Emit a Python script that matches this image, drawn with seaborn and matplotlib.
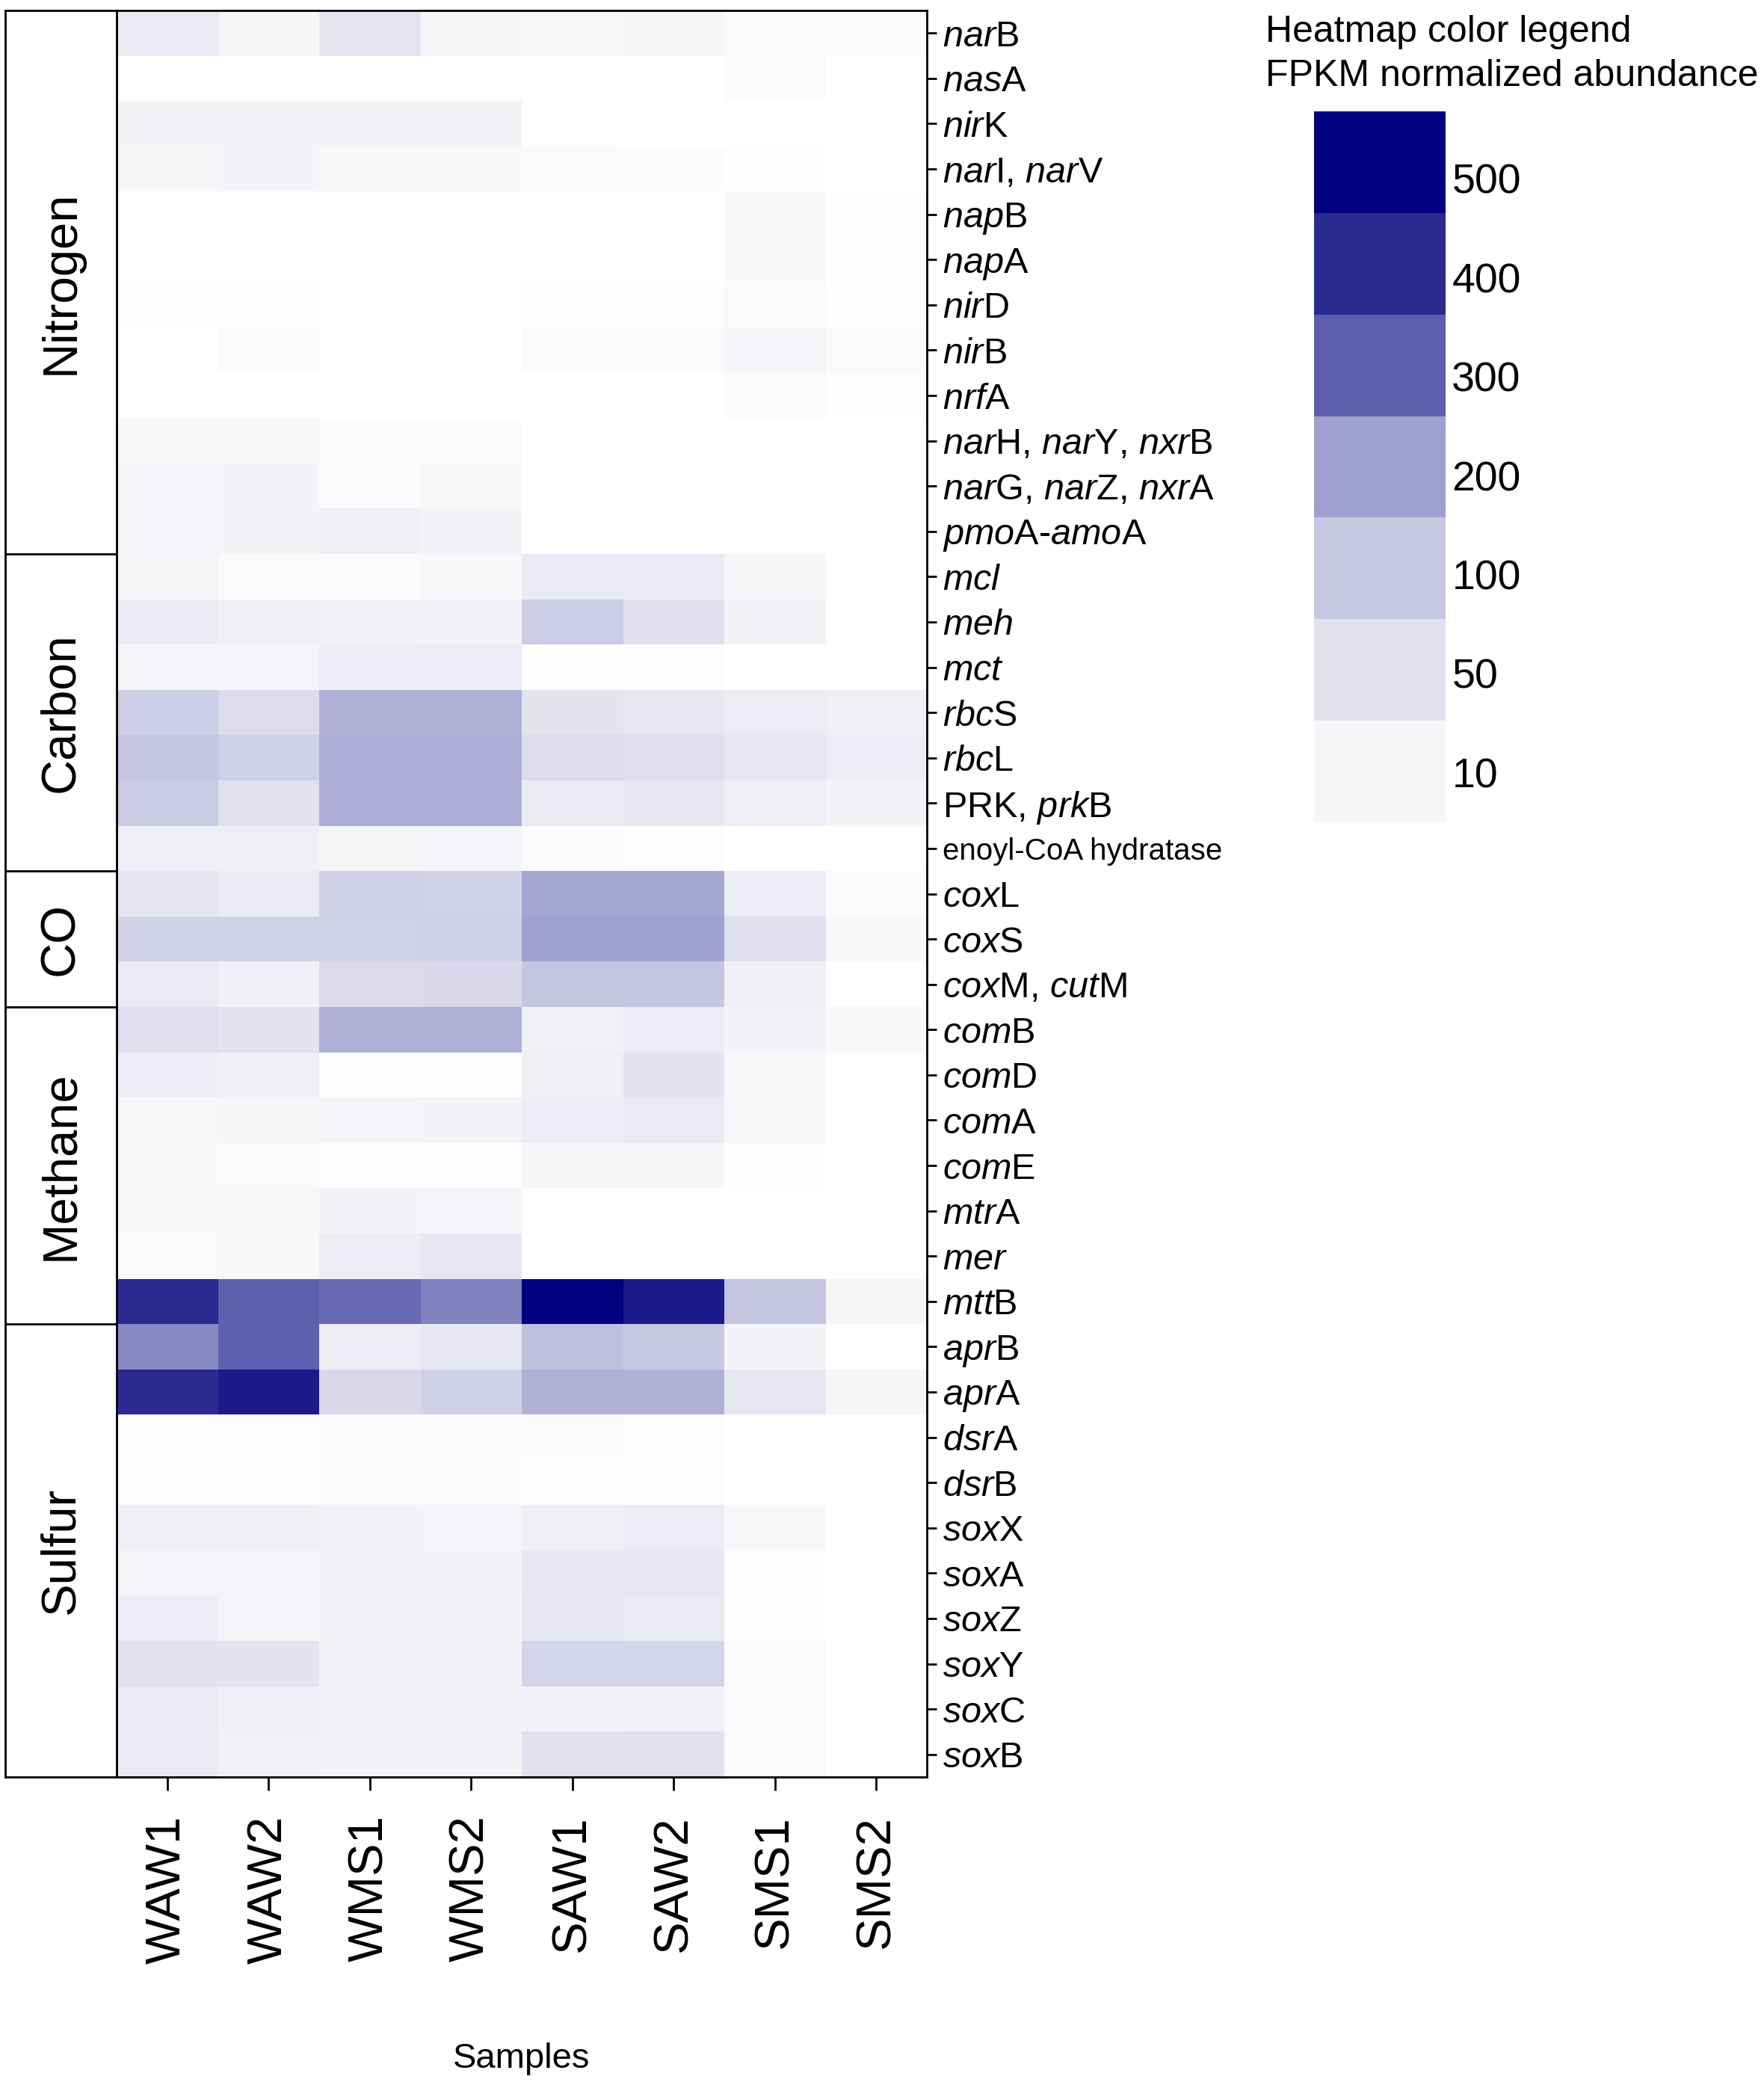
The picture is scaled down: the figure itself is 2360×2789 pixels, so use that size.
import numpy as np
import pandas as pd
import matplotlib
matplotlib.use("Agg")
import matplotlib.pyplot as plt
import seaborn as sns
from matplotlib.colors import LinearSegmentedColormap

sns.set_style("white")
plt.rcParams['font.family'] = ['Liberation Sans', 'DejaVu Sans']
plt.rcParams['mathtext.fontset'] = 'custom'
plt.rcParams['mathtext.rm'] = 'Liberation Sans'
plt.rcParams['mathtext.it'] = 'Liberation Sans:italic'
for k in ['text.color', 'axes.labelcolor', 'xtick.color', 'ytick.color']:
    plt.rcParams[k] = 'black'

samples = ["WAW1", "WAW2", "WMS1", "WMS2", "SAW1", "SAW2", "SMS1", "SMS2"]

genes = [
    r"$\mathit{nar}$B", r"$\mathit{nas}$A", r"$\mathit{nir}$K", r"$\mathit{nar}$I, $\mathit{nar}$V",
    r"$\mathit{nap}$B", r"$\mathit{nap}$A", r"$\mathit{nir}$D", r"$\mathit{nir}$B", r"$\mathit{nrf}$A",
    r"$\mathit{nar}$H, $\mathit{nar}$Y, $\mathit{nxr}$B", r"$\mathit{nar}$G, $\mathit{nar}$Z, $\mathit{nxr}$A",
    r"$\mathit{pmo}$A-$\mathit{amo}$A",
    r"$\mathit{mcl}$", r"$\mathit{meh}$", r"$\mathit{mct}$", r"$\mathit{rbc}$S", r"$\mathit{rbc}$L",
    r"PRK, $\mathit{prk}$B", "enoyl-CoA hydratase",
    r"$\mathit{cox}$L", r"$\mathit{cox}$S", r"$\mathit{cox}$M, $\mathit{cut}$M",
    r"$\mathit{com}$B", r"$\mathit{com}$D", r"$\mathit{com}$A", r"$\mathit{com}$E", r"$\mathit{mtr}$A",
    r"$\mathit{mer}$", r"$\mathit{mtt}$B",
    r"$\mathit{apr}$B", r"$\mathit{apr}$A", r"$\mathit{dsr}$A", r"$\mathit{dsr}$B", r"$\mathit{sox}$X",
    r"$\mathit{sox}$A", r"$\mathit{sox}$Z", r"$\mathit{sox}$Y", r"$\mathit{sox}$C", r"$\mathit{sox}$B",
]

groups = ["Nitrogen", "Carbon", "CO", "Methane", "Sulfur"]
group_sizes = [12, 7, 3, 7, 10]

# FPKM values per gene (rows) x sample (columns)
WAW1 = [34, 0, 16, 10, 0, 0, 2, 1, 0, 8, 12, 12, 10, 32, 12, 90, 108, 96, 25, 42, 81, 34, 55, 28, 8, 8, 8, 6, 400, 236, 400, 3, 2, 25, 12, 28, 50, 32, 35]
WAW2 = [10, 0, 16, 15, 0, 0, 3, 4, 0, 8, 14, 14, 6, 25, 12, 62, 85, 50, 25, 32, 82, 22, 45, 25, 10, 6, 8, 8, 300, 297, 438, 3, 2, 25, 12, 12, 45, 25, 20]
WMS1 = [44, 0, 15, 8, 0, 0, 1, 1, 0, 5, 5, 22, 5, 18, 30, 160, 170, 170, 10, 85, 82, 65, 160, 2, 12, 2, 15, 30, 282, 30, 69, 5, 4, 18, 20, 18, 20, 18, 15]
WMS2 = [10, 0, 14, 8, 0, 0, 1, 1, 0, 5, 8, 16, 8, 16, 30, 160, 168, 165, 12, 82, 85, 68, 160, 3, 14, 2, 12, 40, 248, 40, 85, 5, 4, 12, 18, 15, 18, 15, 15]
SAW1 = [8, 0, 0, 6, 0, 0, 3, 4, 0, 0, 0, 0, 35, 92, 2, 45, 62, 35, 5, 185, 200, 108, 20, 25, 30, 10, 0, 0, 500, 120, 160, 4, 3, 25, 40, 40, 75, 15, 50]
SAW2 = [10, 0, 0, 5, 0, 0, 3, 6, 0, 0, 0, 0, 35, 54, 2, 40, 55, 40, 2, 185, 200, 108, 30, 45, 35, 10, 0, 0, 438, 100, 160, 3, 3, 30, 40, 35, 75, 20, 50]
SMS1 = [5, 4, 0, 2, 8, 8, 6, 12, 6, 0, 0, 0, 10, 15, 0, 30, 40, 25, 0, 30, 55, 22, 15, 8, 8, 3, 0, 0, 108, 15, 40, 0, 0, 8, 3, 3, 6, 5, 6]
SMS2 = [5, 0, 0, 1, 3, 3, 3, 6, 3, 0, 0, 0, 0, 0, 0, 25, 28, 15, 0, 5, 8, 0, 8, 0, 0, 0, 0, 0, 10, 0, 10, 0, 0, 0, 0, 0, 0, 0, 0]

legend_values = [10, 50, 100, 200, 300, 400, 500]
legend_colors = ["#F6F6F9", "#E2E2EF", "#C8C8E2", "#A0A0D0", "#5E5EAE", "#2A2A90", "#000080"]

df = pd.DataFrame({"WAW1": WAW1, "WAW2": WAW2, "WMS1": WMS1, "WMS2": WMS2,
                   "SAW1": SAW1, "SAW2": SAW2, "SMS1": SMS1, "SMS2": SMS2}, index=genes)[samples]

vmax = 500.0
nodes = [0.0] + [v / vmax for v in legend_values]
cols = ["#FFFFFF"] + legend_colors
cmap = LinearSegmentedColormap.from_list("fpkm", list(zip(nodes, cols)))

W, H = 2360, 2789
dpi = 200
fig = plt.figure(figsize=(W / dpi, H / dpi), dpi=dpi)

left, right, top, bottom = 156 / W, 1240 / W, 1 - 14 / H, 1 - 2377 / H
ax = fig.add_axes([left, bottom, right - left, top - bottom])
sns.heatmap(df, cmap=cmap, vmin=0, vmax=vmax, cbar=False, ax=ax)
for s in ax.spines.values():
    s.set_visible(True)
    s.set_color("black")
    s.set_linewidth(1.0)
ax.yaxis.tick_right()
ax.set_yticks(np.arange(len(genes)) + 0.5)
ax.set_yticklabels(genes, rotation=0, fontsize=17.5)
for lab in ax.get_yticklabels():
    if lab.get_text() == "enoyl-CoA hydratase":
        lab.set_fontsize(14.5)
ax.set_xticks(np.arange(len(samples)) + 0.5)
ax.set_xticklabels(samples, rotation=90, fontsize=23.5)
ax.tick_params(axis="y", which="both", right=True, left=False, length=4.5, width=1.0, pad=3, color="black")
ax.tick_params(axis="x", which="both", bottom=True, length=6.5, width=1.0, pad=12, color="black")
ax.set_ylabel("")
ax.set_xlabel("Samples", fontsize=17, labelpad=38)

# group box
gax = fig.add_axes([7 / W, bottom, left - 7 / W, top - bottom])
gax.set_xlim(0, 1)
gax.set_ylim(len(genes), 0)
gax.set_xticks([])
gax.set_yticks([])
for s in gax.spines.values():
    s.set_visible(True)
    s.set_color("black")
    s.set_linewidth(1.0)
start = 0
for g, n in zip(groups, group_sizes):
    if start > 0:
        gax.axhline(start, color="black", lw=1.0)
    gax.text(0.5, start + n / 2, g, rotation=90, ha="center", va="center", fontsize=23.5)
    start += n

# discrete colour legend
lx0, lx1, ly0, ly1 = 1758 / W, 1934 / W, 1 - 1100 / H, 1 - 149 / H
lax = fig.add_axes([lx0, ly0, lx1 - lx0, ly1 - ly0])
lax.barh(np.arange(len(legend_values)), [1] * len(legend_values), height=1.0,
         left=0, color=legend_colors, align="edge", edgecolor="none")
lax.set_xlim(0, 1)
lax.set_ylim(0, len(legend_values))
lax.set_xticks([])
for s in lax.spines.values():
    s.set_visible(False)
lax.yaxis.tick_right()
lax.set_yticks([0.49 + 0.975 * i for i in range(len(legend_values))])
lax.set_yticklabels([str(v) for v in legend_values], fontsize=20)
lax.tick_params(axis="y", length=0, pad=3)

fig.text(1693 / W, 1 - 43 / H, "Heatmap color legend", fontsize=18, ha="left", va="center")
fig.text(1693 / W, 1 - 102 / H, "FPKM normalized abundance", fontsize=18, ha="left", va="center")

fig.savefig("out.png", dpi=dpi, facecolor="white")
